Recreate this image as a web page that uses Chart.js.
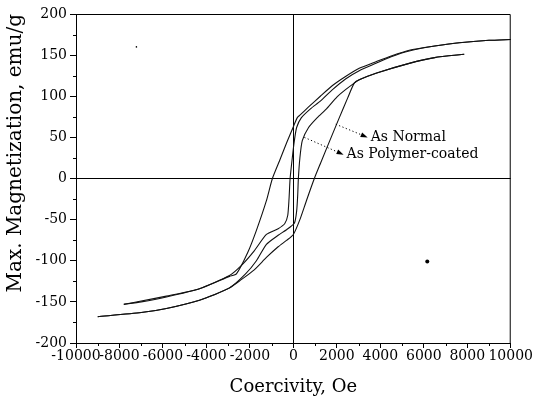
<!DOCTYPE html>
<html>
<head>
<meta charset="utf-8">
<script src="https://cdn.jsdelivr.net/npm/chart.js@4"></script>
<style>
  html, body { margin: 0; padding: 0; background: #fff; }
  #wrap { width: 533px; height: 401px; position: relative; }
</style>
</head>
<body>
<div id="wrap"><canvas id="hysteresis"></canvas></div>
<script>
/* Ticks */
const xTicks = [-10000, -8000, -6000, -4000, -2000, 0, 2000, 4000, 6000, 8000, 10000];
const xMinorTicks = [-9000, -7000, -5000, -3000, -1000, 1000, 3000, 5000, 7000, 9000];
const yTicks = [-200, -150, -100, -50, 0, 50, 100, 150, 200];
const yMinorTicks = [-175, -125, -75, -25, 25, 75, 125, 175];

/* As Normal - loop largo (campo decrescente / crescente) */
const normalDownH = [10000, 9000, 7630, 6500, 5330, 4500, 3800, 3030, 2400, 1800, 1240, 700, 300, 180, 0, -300, -600, -965, -1240, -1700, -2100, -2620, -2940, -4320, -5840, -7000, -7800];
const normalDownM = [169, 168, 165, 161, 156, 149, 142, 134, 124, 113, 100, 87, 77, 74, 63, 44, 24, 0, -27, -63, -90, -116, -119, -134, -144, -150, -153];
const normalUpH = [-9000, -7000, -5840, -4320, -2940, -2400, -1800, -1240, -700, -300, 0, 300, 600, 965, 1240, 1800, 2115, 2500, 2800, 3030, 3800, 5330, 6500, 7860];
const normalUpM = [-168, -163, -158, -148, -133, -123, -111, -96, -83, -75, -68, -50, -27, 0, 18, 54, 74, 98, 116, 120, 128, 140, 147, 151];

/* As Polymer-coated - loop estreito */
const coatedDownH = [10000, 9000, 7630, 6500, 5330, 4500, 3800, 3030, 2400, 1800, 1240, 800, 370, 150, 46, -50, -150, -200, -260, -400, -700, -1240, -1800, -2400, -2940, -4320, -5840, -7000, -7800];
const coatedDownM = [169, 168, 165, 161, 155, 148, 140, 131, 121, 108, 94, 85, 74, 62, 46, 25, 0, -25, -45, -55, -61, -68, -88, -106, -118, -134, -143, -149, -153];
const coatedUpH = [-9000, -7000, -5840, -4320, -2940, -2200, -1700, -1240, -700, -300, 50, 150, 200, 230, 300, 410, 700, 1100, 1500, 2000, 2400, 2800, 3030, 3800, 5330, 6500, 7860];
const coatedUpM = [-168, -163, -158, -148, -133, -116, -100, -80, -69, -62, -54, -40, -20, 0, 25, 46, 62, 74, 84, 99, 108, 116, 120, 128, 140, 147, 151];

/* Pontinhos soltos do scan */
const speckH = [-7220, 6160];
const speckM = [160, -101];
const speckSize = [0.8, 2];

/* Setas com texto (coordenadas em Oe / emu/g) */
const notes = [
  { text: 'As Normal', fromH: 1950, fromM: 66, toH: 3417, toM: 50 },
  { text: 'As Polymer-coated', fromH: 506, fromM: 50, toH: 2310, toM: 29 }
];

const serif = '"DejaVu Serif", "Liberation Serif", serif';

function pairs(hs, ms) {
  return hs.map((h, i) => ({ x: h, y: ms[i] }));
}

function branch(hs, ms) {
  return {
    data: pairs(hs, ms),
    showLine: true,
    borderColor: '#111',
    borderWidth: 1.1,
    pointRadius: 0,
    tension: 0.2,
    fill: false
  };
}

/* Moldura, ticks menores e setas */
const extras = {
  id: 'extras',
  afterDatasetsDraw(chart) {
    const { ctx, chartArea: a, scales: { x, y } } = chart;
    ctx.save();
    ctx.strokeStyle = '#000';
    ctx.lineWidth = 1;
    ctx.beginPath();
    ctx.moveTo(a.left, a.top + 0.5);
    ctx.lineTo(a.right - 0.5, a.top + 0.5);
    ctx.lineTo(a.right - 0.5, a.bottom);
    ctx.stroke();

    ctx.beginPath();
    xMinorTicks.forEach(v => {
      const px = Math.round(x.getPixelForValue(v)) + 0.5;
      ctx.moveTo(px, a.bottom);
      ctx.lineTo(px, a.bottom + 3);
    });
    yMinorTicks.forEach(v => {
      const py = Math.round(y.getPixelForValue(v)) + 0.5;
      ctx.moveTo(a.left, py);
      ctx.lineTo(a.left - 3, py);
    });
    ctx.stroke();

    ctx.fillStyle = '#000';
    ctx.font = '14px ' + serif;
    ctx.textBaseline = 'middle';
    notes.forEach(n => {
      const x0 = x.getPixelForValue(n.fromH), y0 = y.getPixelForValue(n.fromM);
      const x1 = x.getPixelForValue(n.toH), y1 = y.getPixelForValue(n.toM);
      const ang = Math.atan2(y1 - y0, x1 - x0);
      const head = 7;
      ctx.setLineDash([1.2, 2.4]);
      ctx.beginPath();
      ctx.moveTo(x0, y0);
      ctx.lineTo(x1 - head * Math.cos(ang), y1 - head * Math.sin(ang));
      ctx.stroke();
      ctx.setLineDash([]);
      ctx.beginPath();
      ctx.moveTo(x1, y1);
      ctx.lineTo(x1 - head * Math.cos(ang) + 2.5 * Math.sin(ang), y1 - head * Math.sin(ang) - 2.5 * Math.cos(ang));
      ctx.lineTo(x1 - head * Math.cos(ang) - 2.5 * Math.sin(ang), y1 - head * Math.sin(ang) + 2.5 * Math.cos(ang));
      ctx.closePath();
      ctx.fill();
      ctx.fillText(n.text, x1 + 3, y1);
    });
    ctx.restore();
  }
};

const zeroLine = c => (c.tick && c.tick.value === 0) ? '#000' : 'rgba(0,0,0,0)';

new Chart(document.getElementById('hysteresis'), {
  type: 'scatter',
  data: {
    datasets: [
      branch(normalDownH, normalDownM),
      branch(normalUpH, normalUpM),
      branch(coatedDownH, coatedDownM),
      branch(coatedUpH, coatedUpM),
      {
        data: pairs(speckH, speckM),
        pointRadius: speckSize,
        pointBackgroundColor: '#000',
        pointBorderWidth: 0,
        showLine: false
      }
    ]
  },
  options: {
    responsive: true,
    maintainAspectRatio: false,
    animation: false,
    layout: { padding: { top: 14, right: 22, left: 0, bottom: 0 } },
    plugins: { legend: { display: false }, tooltip: { enabled: false } },
    scales: {
      x: {
        type: 'linear',
        min: -10000,
        max: 10000,
        afterBuildTicks: s => { s.ticks = xTicks.map(v => ({ value: v })); },
        afterFit: s => { s.height = 58; },
        border: { display: true, color: '#000', width: 1 },
        grid: { color: zeroLine, tickColor: '#000', tickLength: 5, lineWidth: 1 },
        ticks: {
          autoSkip: false,
          maxRotation: 0,
          padding: 0,
          color: '#000',
          font: { family: serif, size: 14 },
          callback: v => String(v)
        },
        title: {
          display: true,
          text: 'Coercivity, Oe',
          color: '#000',
          font: { family: serif, size: 18 },
          padding: { top: 0, bottom: 3 }
        }
      },
      y: {
        type: 'linear',
        min: -200,
        max: 200,
        afterBuildTicks: s => { s.ticks = yTicks.map(v => ({ value: v })); },
        afterFit: s => { s.width = 76; },
        border: { display: true, color: '#000', width: 1 },
        grid: { color: zeroLine, tickColor: '#000', tickLength: 6, lineWidth: 1 },
        ticks: {
          padding: 3,
          color: '#000',
          font: { family: serif, size: 14 },
          callback: v => String(v)
        },
        title: {
          display: true,
          text: 'Max. Magnetization, emu/g',
          align: 'end',
          color: '#000',
          font: { family: serif, size: 20 },
          padding: { top: 4, bottom: 0 }
        }
      }
    }
  },
  plugins: [extras]
});
</script>
</body>
</html>
